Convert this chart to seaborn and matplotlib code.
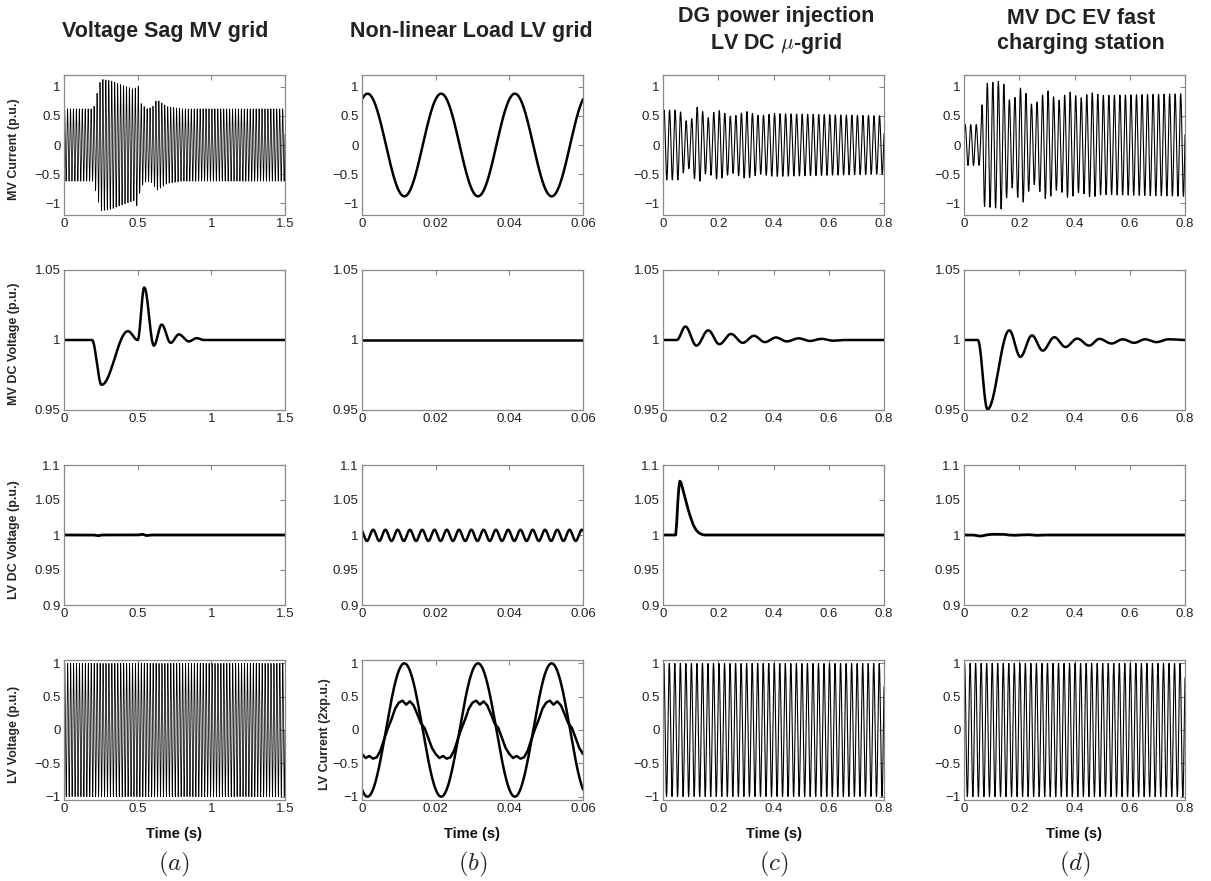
import numpy as np
import matplotlib
matplotlib.use('Agg')
import matplotlib.pyplot as plt
from matplotlib.ticker import FuncFormatter
import seaborn as sns

sns.set_style('white')
plt.rcParams['font.family'] = ['Liberation Sans', 'DejaVu Sans']
plt.rcParams['mathtext.fontset'] = 'cm'

# ---- labels / axes ----
col_titles = ['Voltage Sag MV grid', 'Non-linear Load LV grid',
              'DG power injection\nLV DC $\\mu$-grid', 'MV DC EV fast\ncharging station']
col_tags = ['$(a)$', '$(b)$', '$(c)$', '$(d)$']
t_end = [1.5, 0.06, 0.8, 0.8]
x_ticks = [[0, 0.5, 1, 1.5], [0, 0.02, 0.04, 0.06],
           [0, 0.2, 0.4, 0.6, 0.8], [0, 0.2, 0.4, 0.6, 0.8]]
row_ylabels = ['MV Current (p.u.)', 'MV DC Voltage (p.u.)',
               'LV DC Voltage (p.u.)', 'LV Voltage (p.u.)']
y_ticks = [[-1, -0.5, 0, 0.5, 1], [0.95, 1, 1.05],
           [0.9, 0.95, 1, 1.05, 1.1], [-1, -0.5, 0, 0.5, 1]]
y_lims = [(-1.2, 1.2), (0.95, 1.05), (0.9, 1.1), (-1.05, 1.05)]
grid_freq = 50  # Hz

# ---- row 1: MV current, peak envelopes ----
mv_cur_a_t = [0, 0.2, 0.22, 0.25, 0.32, 0.4, 0.48, 0.5, 0.52, 0.56, 0.6, 0.63, 0.7, 0.8, 1.5]
mv_cur_a_pk = [0.62, 0.62, 0.85, 1.13, 1.1, 1.02, 0.95, 1.08, 0.72, 0.62, 0.65, 0.78, 0.66, 0.62, 0.62]
mv_cur_b_pk = 0.88
mv_cur_b_tpk = 0.0015
mv_cur_c_t = [0, 0.06, 0.08, 0.1, 0.12, 0.14, 0.16, 0.18, 0.2, 0.25, 0.3, 0.35, 0.4, 0.8]
mv_cur_c_pk = [0.6, 0.6, 0.42, 0.4, 0.66, 0.6, 0.45, 0.55, 0.6, 0.48, 0.58, 0.5, 0.54, 0.5]
mv_cur_d_t = [0, 0.06, 0.07, 0.14, 0.17, 0.21, 0.25, 0.3, 0.34, 0.38, 0.42, 0.46, 0.5, 0.8]
mv_cur_d_pk = [0.35, 0.35, 1.05, 1.1, 0.7, 1.02, 0.65, 0.95, 0.75, 0.92, 0.8, 0.9, 0.85, 0.88]

# ---- row 2: MV DC voltage, extrema (time, value) ----
mvdc_a_t = [0, 0.19, 0.255, 0.434, 0.5, 0.545, 0.61, 0.663, 0.724, 0.78, 0.847, 0.9, 0.95, 1.5]
mvdc_a_v = [1, 1, 0.968, 1.0063, 1.0, 1.0375, 0.996, 1.011, 0.998, 1.004, 0.999, 1.0013, 1.0, 1.0]
mvdc_b_t = [0, 0.06]
mvdc_b_v = [1, 1]
mvdc_c_t = [0, 0.05, 0.081, 0.121, 0.164, 0.204, 0.246, 0.289, 0.329, 0.369, 0.409,
            0.448, 0.491, 0.531, 0.574, 0.614, 0.66, 0.8]
mvdc_c_v = [1, 1, 1.0096, 0.996, 1.0069, 0.997, 1.0043, 0.998, 1.003, 0.9985, 1.0018,
            0.999, 1.0012, 0.9993, 1.0008, 0.9995, 1.0, 1.0]
mvdc_d_t = [0, 0.05, 0.085, 0.164, 0.204, 0.246, 0.285, 0.327, 0.367, 0.41, 0.453,
            0.49, 0.534, 0.575, 0.616, 0.655, 0.697, 0.74, 0.8]
mvdc_d_v = [1, 1, 0.9505, 1.0069, 0.988, 1.0033, 0.9924, 1.002, 0.995, 1.001, 0.996,
            1.0008, 0.9975, 1.0005, 0.998, 1.0005, 0.9985, 1.0005, 1.0]

# ---- row 3: LV DC voltage ----
lvdc_a_t = [0, 0.2, 0.23, 0.26, 0.5, 0.53, 0.56, 0.6, 0.65, 1.5]
lvdc_a_v = [1, 1, 0.999, 1, 1, 1.001, 0.9993, 1.0, 1.0, 1.0]
lvdc_b_mean = 0.9995
lvdc_b_amp = 0.008
lvdc_b_freq = 300  # Hz ripple
lvdc_b_phase = 0.6
lvdc_c_t = [0, 0.046, 0.05, 0.054, 0.058, 0.061, 0.065, 0.07, 0.08, 0.09, 0.1,
            0.11, 0.12, 0.13, 0.14, 0.15, 0.8]
lvdc_c_v = [1, 1, 1.02, 1.05, 1.07, 1.077, 1.075, 1.068, 1.053, 1.038, 1.025,
            1.014, 1.007, 1.003, 1.001, 1.0, 1.0]
lvdc_d_t = [0, 0.03, 0.06, 0.09, 0.1, 0.14, 0.16, 0.18, 0.2, 0.23, 0.26, 0.3, 0.8]
lvdc_d_v = [1, 1, 0.9985, 1.0005, 1.001, 1.001, 1.0, 0.9995, 1.0, 1.0005, 0.9995, 1.0, 1.0]

# ---- row 4: LV voltage / current ----
lv_volt_pk = 1.0
lv_volt_phase = [0.0, None, 0.7, 0.9]
lv_cur_sine_pk = 1.0
lv_cur_sine_tpk = 0.0115
# non-linear load current, one period sampled every 1 ms
lv_cur_nl_cycle = [-0.36, -0.42, -0.39, -0.43, -0.41, -0.31, -0.14, 0.02, 0.16, 0.32,
                   0.41, 0.44, 0.38, 0.43, 0.37, 0.24, 0.10, 0.03, -0.12, -0.27]


def ac_wave(tmax, env_t, env_pk, phase, n_per_cycle=40):
    t = np.linspace(0, tmax, int(tmax * grid_freq * n_per_cycle) + 1)
    return t, np.interp(t, env_t, env_pk) * np.sin(2 * np.pi * grid_freq * t + phase)


def extrema_path(tk, vk, n=30):
    ts, vs = [], []
    for i in range(len(tk) - 1):
        s = np.linspace(0, 1, n, endpoint=False)
        w = (1 - np.cos(np.pi * s)) / 2
        ts.append(tk[i] + (tk[i + 1] - tk[i]) * s)
        vs.append(vk[i] + (vk[i + 1] - vk[i]) * w)
    ts.append([tk[-1]])
    vs.append([vk[-1]])
    return np.concatenate(ts), np.concatenate(vs)


# curves per [row][col] -> list of (t, y, lw)
curves = [[None] * 4 for _ in range(4)]
curves[0][0] = [(*ac_wave(1.5, mv_cur_a_t, mv_cur_a_pk, 0.3), 0.55)]
tb = np.linspace(0, 0.06, 601)
curves[0][1] = [(tb, mv_cur_b_pk * np.cos(2 * np.pi * grid_freq * (tb - mv_cur_b_tpk)), 1.8)]
curves[0][2] = [(*ac_wave(0.8, mv_cur_c_t, mv_cur_c_pk, 0.4), 0.8)]
curves[0][3] = [(*ac_wave(0.8, mv_cur_d_t, mv_cur_d_pk, 0.2), 0.8)]

curves[1][0] = [(*extrema_path(mvdc_a_t, mvdc_a_v), 1.8)]
curves[1][1] = [(np.array(mvdc_b_t), np.array(mvdc_b_v), 1.8)]
curves[1][2] = [(*extrema_path(mvdc_c_t, mvdc_c_v), 1.8)]
curves[1][3] = [(*extrema_path(mvdc_d_t, mvdc_d_v), 1.8)]

curves[2][0] = [(*extrema_path(lvdc_a_t, lvdc_a_v), 2.0)]
curves[2][1] = [(tb, lvdc_b_mean + lvdc_b_amp * np.cos(2 * np.pi * lvdc_b_freq * tb + lvdc_b_phase), 1.8)]
curves[2][2] = [(np.array(lvdc_c_t), np.array(lvdc_c_v), 2.0)]
curves[2][3] = [(*extrema_path(lvdc_d_t, lvdc_d_v), 2.0)]

curves[3][0] = [(*ac_wave(1.5, [0, 1.5], [lv_volt_pk] * 2, lv_volt_phase[0]), 0.55)]
nl = np.tile(lv_cur_nl_cycle, 3)
nl = np.append(nl, lv_cur_nl_cycle[0])
t_nl = np.arange(len(nl)) * 0.001
curves[3][1] = [(tb, lv_cur_sine_pk * np.cos(2 * np.pi * grid_freq * (tb - lv_cur_sine_tpk)), 1.8),
                (t_nl, nl, 1.8)]
curves[3][2] = [(*ac_wave(0.8, [0, 0.8], [lv_volt_pk] * 2, lv_volt_phase[2]), 0.8)]
curves[3][3] = [(*ac_wave(0.8, [0, 0.8], [lv_volt_pk] * 2, lv_volt_phase[3]), 0.8)]

# ---- layout (pixels) ----
W, H = 1211, 881
col_left = [64, 362, 663, 964]
ax_w = 221
row_top = [75, 270, 465, 660]
ax_h = 140
title_x = [165, 471, 776, 1081]

fig = plt.figure(figsize=(W / 100, H / 100), dpi=100)
fmt = FuncFormatter(lambda v, p: ('%g' % v).replace('-', '\u2212'))

for r in range(4):
    for c in range(4):
        ax = fig.add_axes([col_left[c] / W, 1 - (row_top[r] + ax_h) / H,
                           ax_w / W, ax_h / H])
        for t, y, lw in curves[r][c]:
            sns.lineplot(x=t, y=y, ax=ax, color='black', linewidth=lw,
                         estimator=None, sort=False, legend=False)
        ax.set_xlim(0, t_end[c])
        ax.set_ylim(*y_lims[r])
        ax.set_xticks(x_ticks[c])
        ax.set_yticks(y_ticks[r])
        ax.xaxis.set_major_formatter(fmt)
        ax.yaxis.set_major_formatter(fmt)
        ax.tick_params(direction='in', top=True, right=True, length=3.5, width=0.8,
                       color='#888888', labelsize=9.5, labelcolor='#222222', pad=2.5)
        for sp in ax.spines.values():
            sp.set_color('#8a8a8a')
            sp.set_linewidth(0.9)
        ax.set_xlabel('')
        ax.set_ylabel('')
        if c == 0:
            ax.set_ylabel(row_ylabels[r], fontsize=9, fontweight='bold')
            ax.yaxis.set_label_coords(-0.2, 0.47)
        if c == 1 and r == 3:
            ax.set_ylabel('LV Current (2xp.u.)', fontsize=9, fontweight='bold')
            ax.yaxis.set_label_coords(-0.14, 0.47)

for c in range(4):
    cx = (col_left[c] + ax_w / 2) / W
    fig.text(title_x[c] / W, 1 - 31 / H, col_titles[c], ha='center', va='center',
             fontsize=15.5, fontweight='bold', color='#222222', linespacing=1.25)
    fig.text(cx, 1 - 834 / H, 'Time (s)', ha='center', va='center',
             fontsize=10.5, fontweight='bold', color='#111111')
    fig.text(cx, 1 - 864 / H, col_tags[c], ha='center', va='center', fontsize=18)

fig.savefig('out.png', dpi=100)
